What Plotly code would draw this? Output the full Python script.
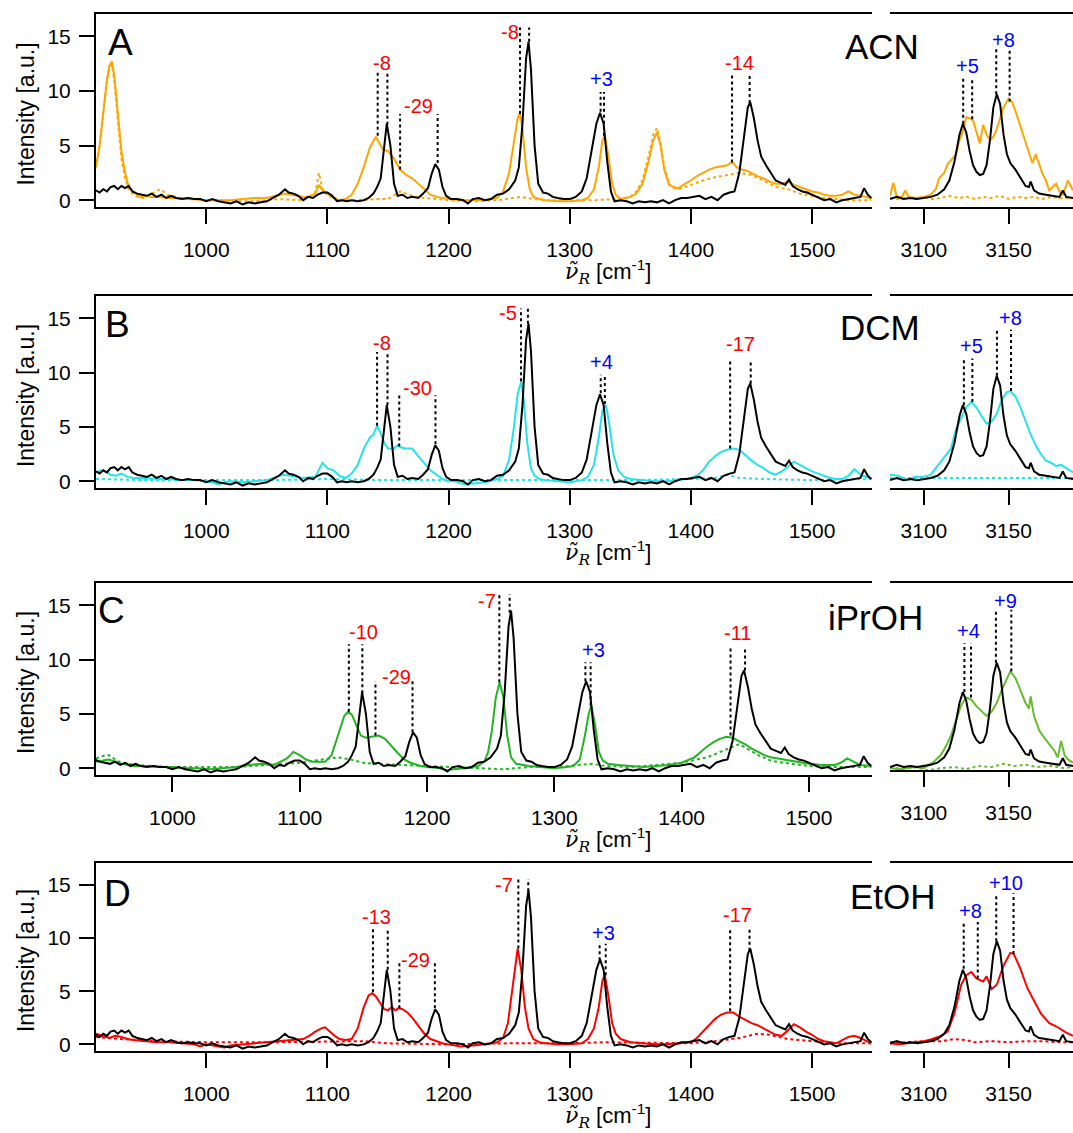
import plotly.graph_objects as go

W, H = 1073, 1133

# ---------------- data ----------------
fp_ticks = [1000, 1100, 1200, 1300, 1400, 1500]
ch_ticks = [3100, 3150]
y_ticks = [0, 5, 10, 15]

# black reference spectrum (same in all panels)
black_fp = [(909,0.9),(912,0.7),(915,1.0),(918,0.8),(921,1.2),(924,1.3),(927,1.0),(930,1.3),(933,1.1),(936,1.3),(939,0.8),(943,0.6),(947,0.5),(951,0.4),(955,0.6),(959,0.3),(963,0.5),(967,0.2),(971,0.4),(975,0.2),(980,0.1),(985,0.2),(990,0.1),(995,0.1),(1000,-0.1),(1005,0.1),(1010,-0.1),(1015,-0.2),(1020,-0.3),(1025,-0.1),(1030,-0.4),(1035,-0.2),(1040,-0.3),(1045,-0.2),(1050,-0.1),(1055,0.2),(1060,0.5),(1065,1.0),(1068,0.7),(1072,0.6),(1076,0.4),(1080,0.0),(1084,0.3),(1088,0.2),(1092,0.5),(1096,0.7),(1100,0.7),(1104,0.4),(1108,-0.1),(1112,0.0),(1116,-0.1),(1120,0.0),(1125,-0.1),(1130,0.0),(1134,0.2),(1138,0.6),(1141,1.2),(1144,2.0),(1146,4.0),(1149,7.0),(1152,5.0),(1155,1.5),(1158,0.4),(1162,0.5),(1166,0.2),(1170,0.3),(1175,0.2),(1179,0.6),(1183,1.1),(1186,2.4),(1189,3.3),(1192,2.8),(1195,1.2),(1198,0.4),(1202,0.1),(1207,0.1),(1212,0.0),(1216,-0.3),(1220,0.1),(1225,0.2),(1230,0.0),(1235,0.1),(1240,0.5),(1245,0.6),(1250,1.0),(1255,1.8),(1258,3.0),(1261,7.0),(1264,13.0),(1266,14.5),(1268,12.0),(1271,5.0),(1274,1.5),(1278,0.7),(1282,0.6),(1286,0.3),(1290,0.2),(1295,0.1),(1300,0.1),(1305,0.3),(1310,0.8),(1314,2.0),(1318,4.5),(1322,7.0),(1325,8.0),(1328,7.0),(1331,3.5),(1334,0.8),(1337,-0.1),(1342,0.0),(1347,-0.1),(1352,-0.3),(1357,-0.1),(1362,-0.2),(1367,-0.1),(1372,-0.2),(1377,0.0),(1382,-0.3),(1387,0.0),(1392,0.2),(1397,0.2),(1402,0.3),(1407,0.4),(1412,0.1),(1417,0.3),(1422,0.0),(1427,0.5),(1432,0.7),(1436,0.8),(1440,2.5),(1444,6.0),(1447,8.5),(1449,9.0),(1452,7.5),(1455,5.5),(1458,4.0),(1462,3.2),(1466,2.5),(1470,1.8),(1474,1.6),(1478,1.4),(1481,1.9),(1484,1.3),(1488,1.0),(1492,0.8),(1496,0.7),(1500,0.5),(1505,0.2),(1510,0.0),(1515,0.1),(1520,-0.2),(1525,0.0),(1530,0.1),(1535,0.2),(1540,0.3),(1543,1.1),(1546,0.5),(1549,0.2)]
black_ch = [(3080,0.1),(3084,0.3),(3088,0.1),(3092,0.2),(3096,0.1),(3100,0.2),(3104,0.3),(3108,0.5),(3112,1.0),(3115,1.8),(3118,3.5),(3121,6.0),(3123,7.0),(3125,6.2),(3127,4.5),(3129,3.2),(3131,2.6),(3133,2.3),(3135,2.4),(3137,3.2),(3139,5.5),(3141,8.5),(3143,9.7),(3145,8.8),(3147,6.0),(3149,4.2),(3151,3.4),(3154,2.8),(3157,2.0),(3160,1.3),(3162,1.2),(3163,1.7),(3165,0.9),(3168,0.6),(3172,0.5),(3176,0.4),(3180,0.3),(3182,0.9),(3184,0.3),(3188,0.2)]

# A: ACN
acn_fp = [(909,3.0),(912,5.0),(915,8.0),(918,11.0),(920,12.3),(922,12.7),(924,11.5),(927,8.0),(930,4.5),(933,2.5),(936,1.2),(940,0.8),(945,0.3),(950,0.4),(955,0.3),(960,0.3),(970,0.2),(980,0.2),(990,0.1),(1000,0.0),(1010,0.0),(1020,0.0),(1030,0.1),(1040,0.2),(1050,0.2),(1060,0.5),(1065,0.6),(1070,0.5),(1080,0.3),(1085,0.3),(1090,0.6),(1093,1.4),(1096,0.9),(1100,0.6),(1105,0.2),(1110,0.0),(1115,0.1),(1120,0.5),(1125,1.5),(1130,3.0),(1135,4.8),(1140,5.8),(1143,5.2),(1146,4.6),(1150,4.5),(1155,3.8),(1160,2.8),(1165,2.3),(1170,2.0),(1175,1.5),(1180,1.0),(1185,0.5),(1190,0.3),(1200,0.1),(1210,0.0),(1220,0.0),(1230,0.0),(1240,0.2),(1245,0.8),(1250,2.5),(1254,5.5),(1257,7.5),(1259,8.0),(1261,6.5),(1264,3.0),(1267,1.0),(1270,0.3),(1275,0.1),(1280,0.0),(1290,-0.1),(1300,-0.1),(1310,0.0),(1315,0.2),(1320,1.0),(1324,3.0),(1327,5.5),(1329,5.9),(1332,4.0),(1335,1.5),(1338,0.5),(1342,0.1),(1350,0.3),(1355,0.6),(1360,1.5),(1365,3.5),(1369,5.5),(1372,6.2),(1375,5.0),(1378,2.8),(1382,1.4),(1386,1.2),(1390,1.1),(1395,1.5),(1400,1.8),(1405,2.2),(1410,2.5),(1415,2.8),(1420,3.0),(1425,3.1),(1430,3.2),(1434,3.5),(1438,3.0),(1442,2.8),(1446,2.7),(1450,2.5),(1455,2.2),(1460,2.0),(1465,1.7),(1470,1.5),(1475,1.5),(1480,1.7),(1485,1.4),(1490,1.2),(1495,1.0),(1500,0.8),(1505,0.7),(1510,0.5),(1515,0.4),(1520,0.4),(1525,0.5),(1530,0.8),(1535,0.5),(1540,0.4),(1545,0.3),(1549,0.1)]
acn_fp_dot = [(909,3.0),(912,5.0),(915,8.0),(918,10.8),(920,12.0),(922,12.4),(924,11.0),(927,7.0),(930,3.8),(933,2.0),(936,1.0),(940,0.5),(945,0.2),(950,0.2),(955,0.6),(962,1.0),(968,0.5),(975,0.3),(985,0.1),(1000,0.0),(1020,-0.1),(1040,-0.1),(1060,0.1),(1080,0.0),(1090,0.7),(1093,2.5),(1096,1.0),(1100,0.4),(1110,0.0),(1120,0.0),(1130,0.0),(1140,0.1),(1150,0.1),(1160,0.8),(1170,0.4),(1180,0.2),(1190,0.1),(1200,0.0),(1220,-0.1),(1240,0.0),(1260,0.3),(1270,0.1),(1280,0.0),(1300,0.0),(1320,0.0),(1340,0.1),(1350,0.3),(1355,0.8),(1360,1.8),(1365,4.0),(1369,6.0),(1372,6.6),(1375,5.3),(1378,3.0),(1382,1.5),(1386,1.1),(1390,1.0),(1395,1.2),(1400,1.4),(1410,1.8),(1420,2.1),(1430,2.3),(1440,2.5),(1450,2.3),(1460,1.8),(1470,1.2),(1480,1.0),(1490,0.6),(1500,0.4),(1510,0.2),(1520,0.1),(1530,0.0),(1549,0.0)]
acn_ch = [(3080,0.4),(3082,1.6),(3084,0.3),(3087,0.3),(3089,0.9),(3091,0.3),(3095,0.2),(3100,0.3),(3104,0.5),(3107,1.0),(3109,2.0),(3112,2.5),(3114,3.3),(3117,3.8),(3119,4.2),(3121,5.5),(3123,6.3),(3125,7.6),(3127,7.5),(3129,7.3),(3131,6.3),(3133,5.2),(3135,6.9),(3137,6.0),(3139,5.5),(3141,5.8),(3143,6.5),(3145,7.5),(3147,8.5),(3150,9.3),(3152,9.0),(3154,8.2),(3156,7.2),(3158,6.3),(3160,5.3),(3162,4.4),(3164,3.4),(3166,4.2),(3168,3.2),(3170,2.4),(3172,1.8),(3174,0.9),(3176,1.2),(3178,1.5),(3180,0.8),(3182,0.5),(3185,1.8),(3188,0.9)]
acn_ch_dot = [(3080,0.2),(3085,0.1),(3090,0.3),(3095,0.1),(3100,0.3),(3105,0.1),(3110,0.2),(3115,0.4),(3120,0.2),(3125,0.3),(3130,0.1),(3135,0.3),(3140,0.2),(3145,0.4),(3150,0.1),(3155,0.3),(3160,0.2),(3165,0.3),(3170,0.1),(3175,0.3),(3180,0.2),(3188,0.2)]

# B: DCM
dcm_fp = [(909,0.8),(913,1.0),(917,0.9),(921,0.6),(925,0.5),(930,0.7),(935,0.4),(940,0.3),(950,0.3),(960,0.2),(970,0.2),(980,0.1),(990,0.1),(1000,0.0),(1005,-0.1),(1010,-0.3),(1015,-0.1),(1020,0.0),(1030,-0.1),(1040,0.0),(1050,0.1),(1058,0.4),(1063,0.6),(1070,0.5),(1080,0.3),(1090,0.4),(1096,1.7),(1100,1.2),(1105,1.0),(1110,0.5),(1115,0.3),(1120,0.7),(1125,1.5),(1130,3.0),(1135,4.0),(1138,4.3),(1141,5.1),(1144,4.4),(1147,3.5),(1150,3.0),(1155,3.0),(1158,3.3),(1161,3.1),(1165,3.0),(1170,3.0),(1175,2.3),(1180,1.6),(1185,1.0),(1190,0.6),(1195,0.2),(1200,0.0),(1205,0.0),(1210,-0.2),(1215,-0.3),(1220,-0.2),(1230,-0.1),(1240,0.2),(1245,0.5),(1250,2.0),(1254,5.0),(1257,8.0),(1260,9.2),(1262,7.5),(1265,3.5),(1268,1.2),(1271,0.5),(1275,0.2),(1280,0.1),(1290,0.0),(1300,-0.1),(1310,0.1),(1315,0.4),(1320,1.5),(1324,4.0),(1327,6.5),(1330,7.0),(1333,5.0),(1336,2.5),(1340,1.0),(1345,0.4),(1350,0.2),(1360,0.1),(1370,0.0),(1380,0.0),(1390,0.1),(1400,0.3),(1405,0.5),(1410,1.0),(1415,1.8),(1420,2.3),(1425,2.7),(1430,2.9),(1435,3.0),(1440,2.9),(1445,2.4),(1450,1.9),(1455,1.5),(1460,1.2),(1465,0.8),(1470,0.6),(1475,0.9),(1480,1.3),(1485,1.8),(1490,1.5),(1495,1.2),(1500,0.9),(1505,0.7),(1510,0.5),(1515,0.3),(1520,0.2),(1525,0.2),(1530,0.5),(1535,1.1),(1540,0.6),(1545,0.4),(1549,0.2)]
dcm_fp_dot = [(909,0.2),(950,0.1),(1000,0.1),(1050,0.1),(1100,0.2),(1150,0.1),(1200,0.1),(1250,0.1),(1300,0.1),(1350,0.1),(1400,0.2),(1420,0.3),(1430,0.6),(1440,0.3),(1460,0.2),(1500,0.1),(1549,0.2)]
dcm_ch = [(3080,0.6),(3085,0.5),(3090,0.1),(3095,0.4),(3100,0.4),(3104,0.6),(3107,1.2),(3110,1.8),(3113,2.3),(3116,3.0),(3119,4.8),(3122,5.8),(3125,6.8),(3128,7.3),(3131,6.8),(3134,6.0),(3137,5.3),(3140,5.5),(3143,6.2),(3146,7.5),(3149,8.2),(3151,8.3),(3154,7.8),(3157,6.8),(3160,5.5),(3163,4.3),(3166,3.3),(3169,2.5),(3172,1.9),(3175,1.7),(3178,1.4),(3181,1.5),(3184,1.2),(3188,0.8)]
dcm_ch_dot = [(3080,0.3),(3100,0.3),(3120,0.3),(3140,0.3),(3160,0.3),(3188,0.3)]

# C: iPrOH
ipr_fp = [(940,0.6),(950,0.8),(955,0.6),(960,0.4),(970,0.2),(980,0.2),(990,0.1),(1000,0.1),(1010,0.0),(1020,0.0),(1030,-0.1),(1040,0.0),(1050,0.1),(1060,0.3),(1070,0.4),(1080,0.3),(1090,0.9),(1095,1.5),(1100,1.2),(1105,0.8),(1110,0.6),(1115,0.6),(1120,0.6),(1125,1.2),(1130,3.0),(1135,4.8),(1138,5.2),(1141,4.9),(1145,3.8),(1148,3.0),(1152,2.8),(1157,2.9),(1162,3.0),(1167,2.7),(1172,2.0),(1177,1.4),(1182,0.8),(1187,0.5),(1195,0.2),(1200,0.1),(1210,0.0),(1215,-0.2),(1220,-0.1),(1230,0.0),(1240,0.2),(1245,0.6),(1248,1.5),(1251,3.5),(1254,6.5),(1257,7.9),(1260,6.5),(1263,3.0),(1266,1.0),(1270,0.4),(1280,0.2),(1290,0.1),(1300,0.0),(1310,0.1),(1315,0.2),(1320,0.8),(1324,3.0),(1327,5.0),(1329,5.8),(1332,4.0),(1335,1.5),(1338,0.7),(1342,0.4),(1350,0.3),(1360,0.2),(1370,0.1),(1380,0.2),(1390,0.3),(1400,0.5),(1410,1.0),(1415,1.5),(1420,2.0),(1425,2.4),(1430,2.7),(1435,2.9),(1440,2.8),(1445,2.5),(1450,2.2),(1455,1.8),(1460,1.5),(1465,1.2),(1470,1.0),(1480,0.8),(1490,0.6),(1500,0.4),(1510,0.3),(1520,0.3),(1525,0.5),(1530,0.9),(1535,0.6),(1540,0.3),(1549,0.2)]
ipr_fp_dot = [(940,0.9),(945,1.1),(950,1.2),(955,0.8),(960,0.5),(970,0.3),(1000,0.1),(1050,0.1),(1100,0.5),(1120,0.8),(1130,1.0),(1140,0.8),(1150,0.5),(1160,0.4),(1180,0.3),(1200,0.2),(1250,0.0),(1260,-0.1),(1280,0.1),(1300,0.1),(1330,0.4),(1340,0.2),(1360,0.1),(1400,0.5),(1420,1.0),(1440,2.0),(1445,2.2),(1450,1.9),(1460,1.2),(1470,0.7),(1480,0.5),(1500,0.2),(1520,0.1),(1549,0.1)]
ipr_ch = [(3080,0.0),(3085,-0.1),(3090,0.0),(3095,0.1),(3100,0.0),(3103,0.3),(3106,0.6),(3110,1.2),(3113,2.0),(3116,3.0),(3119,4.5),(3122,5.8),(3125,6.5),(3128,6.3),(3131,5.7),(3134,5.2),(3137,4.8),(3140,5.2),(3143,6.0),(3146,7.2),(3149,8.3),(3151,8.9),(3154,8.3),(3157,7.2),(3160,6.0),(3162,5.5),(3163,6.6),(3165,4.8),(3168,3.5),(3171,2.8),(3174,2.2),(3177,1.6),(3179,1.0),(3181,2.5),(3183,1.2),(3185,0.8),(3188,0.5)]
ipr_ch_dot = [(3080,0.1),(3088,-0.1),(3095,0.1),(3102,-0.2),(3110,0.0),(3118,0.1),(3125,-0.1),(3132,0.2),(3140,0.1),(3147,0.4),(3153,0.2),(3160,0.3),(3167,0.1),(3175,0.2),(3182,0.0),(3188,0.1)]

# D: EtOH
eto_fp = [(909,1.0),(915,0.8),(920,0.6),(925,0.8),(930,0.7),(935,0.5),(940,0.4),(950,0.3),(960,0.2),(970,0.2),(980,0.1),(990,0.0),(995,-0.2),(1000,0.0),(1010,-0.2),(1015,-0.3),(1020,-0.1),(1030,0.0),(1040,0.1),(1050,0.2),(1060,0.3),(1070,0.4),(1080,0.5),(1085,0.8),(1090,1.2),(1095,1.5),(1098,1.6),(1102,1.2),(1106,0.8),(1110,0.5),(1115,0.4),(1120,0.5),(1125,1.5),(1130,3.5),(1134,4.6),(1137,4.8),(1140,4.5),(1144,3.8),(1147,3.3),(1150,3.2),(1153,3.5),(1156,3.2),(1159,3.4),(1162,3.3),(1166,3.0),(1170,2.5),(1175,1.8),(1180,1.0),(1185,0.5),(1190,0.3),(1195,0.1),(1200,0.0),(1210,-0.2),(1220,-0.1),(1230,0.0),(1240,0.2),(1245,0.6),(1249,2.0),(1252,4.5),(1255,7.5),(1257,9.0),(1260,7.0),(1263,3.5),(1266,1.5),(1270,0.5),(1275,0.2),(1280,0.1),(1290,0.0),(1300,0.0),(1310,0.1),(1315,0.5),(1320,1.5),(1324,3.5),(1327,6.0),(1329,6.5),(1332,4.5),(1335,2.0),(1338,1.0),(1342,0.5),(1350,0.2),(1360,0.1),(1370,0.0),(1380,0.0),(1390,0.1),(1400,0.2),(1405,0.6),(1410,1.2),(1415,1.8),(1420,2.4),(1425,2.8),(1430,3.0),(1435,3.0),(1440,2.6),(1445,2.3),(1450,2.0),(1455,1.8),(1460,1.5),(1465,1.2),(1470,0.9),(1475,0.8),(1480,1.3),(1485,1.9),(1490,1.6),(1495,1.2),(1500,0.9),(1505,0.5),(1510,0.3),(1515,0.2),(1520,0.1),(1525,0.4),(1530,0.7),(1535,0.8),(1540,0.6),(1545,0.3),(1549,0.1)]
eto_fp_dot = [(909,0.7),(930,0.5),(960,0.3),(1000,0.2),(1050,0.2),(1100,0.3),(1130,0.3),(1150,0.1),(1200,0.0),(1250,0.1),(1300,0.1),(1330,0.2),(1400,0.1),(1420,0.3),(1440,0.6),(1455,1.0),(1465,0.9),(1480,0.5),(1500,0.3),(1520,0.1),(1549,0.1)]
eto_ch = [(3080,0.1),(3085,0.0),(3090,0.1),(3095,0.2),(3100,0.3),(3105,0.5),(3110,0.8),(3114,1.2),(3118,2.9),(3122,5.6),(3125,6.5),(3128,6.8),(3131,6.2),(3135,5.9),(3137,6.4),(3140,5.2),(3143,5.6),(3147,7.4),(3151,8.6),(3153,8.5),(3157,7.1),(3161,5.3),(3165,4.1),(3169,2.9),(3174,2.0),(3178,1.7),(3184,1.1),(3188,0.8)]
eto_ch_dot = [(3080,0.2),(3090,0.2),(3100,0.3),(3110,0.3),(3118,0.5),(3125,0.4),(3130,0.2),(3140,0.3),(3150,0.2),(3160,0.3),(3170,0.3),(3180,0.2),(3188,0.2)]

# peak-shift markers: (x_solvent, y_solvent, x_gas, y_gas, y_top, label, label_x, label_y)
acn_marks_fp = [(1141.5,5.9,1149.5,6.9,11.8,'-8',1145.4,12.6),(1160,2.8,1191,3.4,7.9,'-29',1175,8.6),
                (1259,7.9,1266.5,14.5,15.8,'-8',1251,15.4),(1328.3,5.9,1325.5,8.1,9.9,'+3',1326.5,11.1),
                (1434,3.45,1448.5,8.9,11.5,'-14',1440,12.6)]
acn_marks_ch = [(3128.5,7.4,3123.2,7.0,11.2,'+5',3125.5,12.3),(3150.6,9.0,3142.7,9.7,13.85,'+8',3147,14.7)]
dcm_marks_fp = [(1141,5.1,1149.6,7.0,11.9,'-8',1145.3,12.75),(1159.3,3.2,1189.2,3.4,7.9,'-30',1174.4,8.6),
                (1259.8,9.2,1265.5,14.5,15.9,'-5',1249,15.5),(1329,7.1,1325.6,8.1,9.8,'+4',1326,11.0),
                (1432.4,3.0,1449.4,9.0,11.1,'-17',1440.7,12.6)]
dcm_marks_ch = [(3128.6,7.3,3123.6,7.0,11.3,'+5',3128.2,12.4),(3151.4,8.3,3143.1,9.7,13.95,'+8',3151.4,15.0)]
ipr_marks_fp = [(1138.6,5.2,1149.2,6.9,11.4,'-10',1150,12.56),(1159.5,3.0,1188.6,3.3,8.0,'-29',1175.7,8.4),
                (1256.8,7.9,1264.9,14.3,16.0,'-7',1247.3,15.4),(1328.5,5.8,1324.4,8.0,9.75,'+3',1330.4,10.85),
                (1438.4,3.0,1449.8,9.0,11.1,'-11',1443.8,12.4)]
ipr_marks_ch = [(3127.8,6.5,3123.9,7.0,11.5,'+4',3126.1,12.6),(3151.6,8.9,3142.5,9.7,14.57,'+9',3148.1,15.4)]
eto_marks_fp = [(1137.6,4.9,1149.8,7.0,10.84,'-13',1140.4,11.95),(1159.4,3.4,1188.7,3.4,7.76,'-29',1173,7.95),
                (1257.6,9.0,1265.8,14.4,15.55,'-7',1245.4,15.0),(1329.7,6.5,1324.7,7.9,9.45,'+3',1327.5,10.5),
                (1432.4,3.1,1448.4,8.8,10.97,'-17',1438.7,12.2)]
eto_marks_ch = [(3131.8,6.2,3123.5,7.1,11.5,'+8',3127.4,12.5),(3152.9,8.5,3142.7,9.7,14.2,'+10',3148.4,15.15)]

# ---------------- layout / styles ----------------
panels = [
    dict(letter='A', name='ACN', color='#FFA500', color_ch='#FFA500', fp=acn_fp, fpd=acn_fp_dot, ch=acn_ch, chd=acn_ch_dot,
         mfp=acn_marks_fp, mch=acn_marks_ch, top=14, bot=208, fp_range=[909, 1549.5], ch_bot=208,
         letter_xy=(120, 43), name_xy=(882, 47)),
    dict(letter='B', name='DCM', color='#22E4EA', color_ch='#22E4EA', fp=dcm_fp, fpd=dcm_fp_dot, ch=dcm_ch, chd=dcm_ch_dot,
         mfp=dcm_marks_fp, mch=dcm_marks_ch, top=297, bot=490, fp_range=[909, 1549.5], ch_bot=490,
         letter_xy=(117, 326), name_xy=(880, 329)),
    dict(letter='C', name='iPrOH', color='#22B422', color_ch='#66BB2E', fp=ipr_fp, fpd=ipr_fp_dot, ch=ipr_ch, chd=ipr_ch_dot,
         mfp=ipr_marks_fp, mch=ipr_marks_ch, top=585, bot=778, fp_range=[940, 1549.5], ch_bot=773,
         letter_xy=(111, 613), name_xy=(875, 620)),
    dict(letter='D', name='EtOH', color='#FF0000', color_ch='#FF0000', fp=eto_fp, fpd=eto_fp_dot, ch=eto_ch, chd=eto_ch_dot,
         mfp=eto_marks_fp, mch=eto_marks_ch, top=866, bot=1055, fp_range=[909, 1549.5], ch_bot=1055,
         letter_xy=(117, 897), name_xy=(893, 900)),
]

Y_RANGE = [-0.65, 17.05]
FP_X = (96, 872)
CH_X = (890, 1073)
CH_RANGE = [3080, 3188]
FONT = 'Liberation Sans, Arial, sans-serif'

fig = go.Figure()
layout = dict(width=W, height=H, margin=dict(l=0, r=0, t=0, b=0), plot_bgcolor='white', paper_bgcolor='white',
              showlegend=False, annotations=[])


def px_x(p):
    return p / W


def px_y(p):
    return 1 - p / H


def unzip(pairs):
    return [p[0] for p in pairs], [p[1] for p in pairs]


def lab_color(t):
    return '#FF0000' if t.startswith('-') else '#0000FF'


def add_marks(marks, xa, ya):
    lx, ly = [], []
    for (xs, ys, xg, yg, yt, lab, tx, ty) in marks:
        lx += [xs, xs, None, xg, xg, None]
        ly += [ys, yt, None, yg, yt, None]
        layout['annotations'].append(dict(x=tx, y=ty, xref=xa, yref=ya, text=lab, showarrow=False,
                                          font=dict(family=FONT, size=20, color=lab_color(lab)),
                                          xanchor='center', yanchor='middle'))
    fig.add_trace(go.Scatter(x=lx, y=ly, mode='lines', xaxis=xa, yaxis=ya, hoverinfo='skip',
                             line=dict(color='black', width=2, dash='dot')))


for i, p in enumerate(panels):
    n1 = 2 * i + 1
    n2 = 2 * i + 2
    xa1, ya1 = f'x{n1}', f'y{n1}'
    xa2, ya2 = f'x{n2}', f'y{n2}'
    ydom = [px_y(p['bot']), px_y(p['top'])]
    ydom_ch = [px_y(p['ch_bot']), px_y(p['top'])]
    common_x = dict(showline=True, mirror=True, linecolor='black', linewidth=2, ticks='outside', ticklen=15,
                    tickwidth=2, tickcolor='black', showgrid=False, zeroline=False,
                    tickfont=dict(family=FONT, size=21, color='black'), ticklabelstandoff=8)
    layout[f'xaxis{n1}'] = dict(common_x, domain=[px_x(FP_X[0]), px_x(FP_X[1])], range=p['fp_range'],
                                tickvals=fp_ticks, anchor=ya1)
    layout[f'xaxis{n2}'] = dict(common_x, domain=[px_x(CH_X[0]), px_x(CH_X[1])], range=CH_RANGE,
                                tickvals=ch_ticks, anchor=ya2)
    layout[f'yaxis{n1}'] = dict(domain=ydom, range=Y_RANGE, tickvals=y_ticks, showline=True, linecolor='black',
                                linewidth=2, ticks='outside', ticklen=15, tickwidth=2, tickcolor='black',
                                showgrid=False, zeroline=False, anchor=xa1, ticklabelstandoff=4,
                                tickfont=dict(family=FONT, size=21, color='black'))
    ch_range = Y_RANGE if p['ch_bot'] == p['bot'] else [-0.2, Y_RANGE[1]]
    layout[f'yaxis{n2}'] = dict(domain=ydom_ch, range=ch_range, visible=False, anchor=xa2)

    # fingerprint region
    x, y = unzip(p['fpd'])
    fig.add_trace(go.Scatter(x=x, y=y, mode='lines', xaxis=xa1, yaxis=ya1,
                             line=dict(color=p['color'], width=2, dash='dot')))
    x, y = unzip(p['fp'])
    fig.add_trace(go.Scatter(x=x, y=y, mode='lines', xaxis=xa1, yaxis=ya1, line=dict(color=p['color'], width=2)))
    x, y = unzip(black_fp)
    fig.add_trace(go.Scatter(x=x, y=y, mode='lines', xaxis=xa1, yaxis=ya1, line=dict(color='black', width=2)))
    add_marks(p['mfp'], xa1, ya1)

    # CH region
    x, y = unzip(p['chd'])
    fig.add_trace(go.Scatter(x=x, y=y, mode='lines', xaxis=xa2, yaxis=ya2,
                             line=dict(color=p['color_ch'], width=2, dash='dot')))
    x, y = unzip(p['ch'])
    fig.add_trace(go.Scatter(x=x, y=y, mode='lines', xaxis=xa2, yaxis=ya2, line=dict(color=p['color_ch'], width=2)))
    x, y = unzip(black_ch)
    fig.add_trace(go.Scatter(x=x, y=y, mode='lines', xaxis=xa2, yaxis=ya2, line=dict(color='black', width=2)))
    add_marks(p['mch'], xa2, ya2)

    # panel letter and solvent name
    lxp, lyp = p['letter_xy']
    layout['annotations'].append(dict(x=px_x(lxp), y=px_y(lyp), xref='paper', yref='paper', text=p['letter'],
                                      showarrow=False, font=dict(family=FONT, size=37, color='black'),
                                      xanchor='center', yanchor='middle'))
    nxp, nyp = p['name_xy']
    layout['annotations'].append(dict(x=px_x(nxp), y=px_y(nyp), xref='paper', yref='paper', text=p['name'],
                                      showarrow=False, font=dict(family=FONT, size=35, color='black'),
                                      xanchor='center', yanchor='middle'))
    # axis titles
    layout['annotations'].append(dict(x=px_x(26), y=px_y((p['top'] + p['bot']) / 2 + 4), xref='paper', yref='paper',
                                      text='Intensity [a.u.]', textangle=-90, showarrow=False,
                                      font=dict(family=FONT, size=23, color='black'),
                                      xanchor='center', yanchor='middle'))
    layout['annotations'].append(dict(x=px_x(608), y=px_y(p['bot'] + 65), xref='paper', yref='paper',
                                      text="<span style='font-family:DejaVu Serif'><i>ν̃</i><sub><i>R</i></sub></span> [cm<sup>-1</sup>]",
                                      showarrow=False,
                                      font=dict(family=FONT, size=22, color='black'),
                                      xanchor='center', yanchor='middle'))

fig.update_layout(**layout)
fig.write_html('out.html')
